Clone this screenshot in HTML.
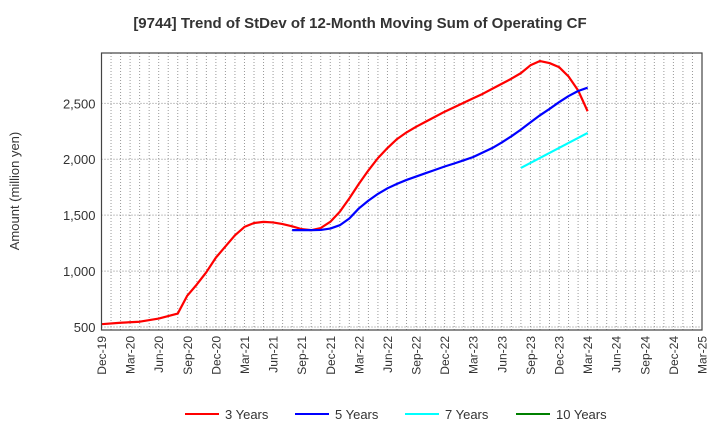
<!DOCTYPE html>
<html><head><meta charset="utf-8"><style>
body{margin:0;background:#fff;font-family:"Liberation Sans",sans-serif}
</style></head><body>
<svg id="c" width="720" height="440" xmlns="http://www.w3.org/2000/svg" font-family="Liberation Sans, sans-serif">
<text x="360" y="28" text-anchor="middle" font-size="15" font-weight="bold" fill="#333">[9744]  Trend of StDev of 12-Month Moving Sum of Operating CF</text>
<text transform="translate(19,191) rotate(-90)" text-anchor="middle" font-size="13" fill="#333">Amount (million yen)</text>
<g id="grid"></g><g id="series"></g><g id="axes"></g>
<g id="legend"></g>
</svg>
<script>
const xLabels=["Dec-19","Mar-20","Jun-20","Sep-20","Dec-20","Mar-21","Jun-21","Sep-21","Dec-21","Mar-22","Jun-22","Sep-22","Dec-22","Mar-23","Jun-23","Sep-23","Dec-23","Mar-24","Jun-24","Sep-24","Dec-24","Mar-25"];
const yTicks=[500,1000,1500,2000,2500];
const seriesNames=["3 Years","5 Years","7 Years","10 Years"];
const seriesColors=["#ff0000","#0000ff","#00ffff","#008000"];
const redMonths=[0,2,4,6,8,9,10,11,12,13,14,15,16,17,18,19,20,21,22,23,24,25,26,27,28,29,30,31,32,33,34,35,36,37,38,39,40,41,42,43,44,45,46,47,48,49,50,51];
const redVals=[525,538,547,575,620,681,780,880,990,1120,1220,1320,1395,1430,1440,1435,1420,1400,1375,1366,1385,1440,1530,1650,1780,1900,2010,2100,2180,2240,2290,2335,2380,2425,2465,2505,2545,2585,2630,2675,2720,2770,2840,2878,2860,2824,2740,2616,2429].slice(0,5).concat([681,780,880,990,1120,1220,1320,1395,1430,1440,1435,1420,1400,1375,1366,1385,1440,1530,1650,1780,1900,2010,2100,2180,2240,2290,2335,2380,2425,2465,2505,2545,2585,2630,2675,2720,2770,2840,2878,2860,2824,2740,2616,2429].slice(1));
const blueMonths=[20,21,22,23,24,25,26,27,28,29,30,31,32,33,34,35,36,37,38,39,40,41,42,43,44,45,46,47,48,49,50,51];
const blueVals=[1366,1366,1366,1368,1380,1410,1470,1560,1630,1690,1740,1780,1815,1845,1875,1905,1935,1962,1990,2020,2060,2100,2150,2205,2265,2330,2393,2450,2510,2565,2610,2640];
const cyanMonths=[44,51];
const cyanVals=[1922,2235];
const L=101.5,R=702,T=53,B=330,ymin=473,ymax=2950,nM=63;
const X=m=>L+(R-L)*m/nM, Y=v=>B-(v-ymin)/(ymax-ymin)*(B-T);
const NS="http://www.w3.org/2000/svg";
function mk(t,a,p){const e=document.createElementNS(NS,t);for(const k in a)e.setAttribute(k,a[k]);p.appendChild(e);return e;}
const g=document.getElementById('grid'),s=document.getElementById('series'),ax=document.getElementById('axes'),lg=document.getElementById('legend');
for(let m=1;m<nM;m++){const l=mk('line',{x1:X(m),x2:X(m),y1:T,y2:B,stroke:'#999','stroke-dasharray':'1,2','stroke-width':1},g);

}
yTicks.forEach(v=>{const l=mk('line',{x1:L,x2:R,y1:Y(v),y2:Y(v),stroke:'#888','stroke-dasharray':'1,2','stroke-width':1},g);


const t=mk('text',{x:L-6,y:Y(v)+5,'text-anchor':'end','font-size':13,fill:'#333'},ax);t.textContent=v.toLocaleString('en-US');

});
xLabels.forEach((lb,i)=>{const x=X(i*3);const t=mk('text',{transform:`translate(${x+4.5},${B+6}) rotate(-90)`,'text-anchor':'end','font-size':12,fill:'#333'},ax);t.textContent=lb;

});
const fr=mk('rect',{x:L,y:T,width:R-L,height:B-T,fill:'none',stroke:'#444','stroke-width':1.2},ax);


function line(ms,vs,c,name){const n=Math.min(ms.length,vs.length);const p=mk('polyline',{points:ms.slice(0,n).map((m,i)=>X(m)+','+Y(vs[i])).join(' '),fill:'none',stroke:c,'stroke-width':2.2,'stroke-linejoin':'round'},s);

}
line(redMonths,redVals,seriesColors[0],'line-3-years');
line(blueMonths,blueVals,seriesColors[1],'line-5-years');
line(cyanMonths,cyanVals,seriesColors[2],'line-7-years');
const lx=[185,295,405,516];
seriesNames.forEach((n,i)=>{const gg=mk('g',{},lg);


mk('line',{x1:lx[i],x2:lx[i]+34,y1:414,y2:414,stroke:seriesColors[i],'stroke-width':2},gg);
const t=mk('text',{x:lx[i]+40,y:419,'font-size':13,fill:'#333'},gg);t.textContent=n;});
</script>
</body></html>
